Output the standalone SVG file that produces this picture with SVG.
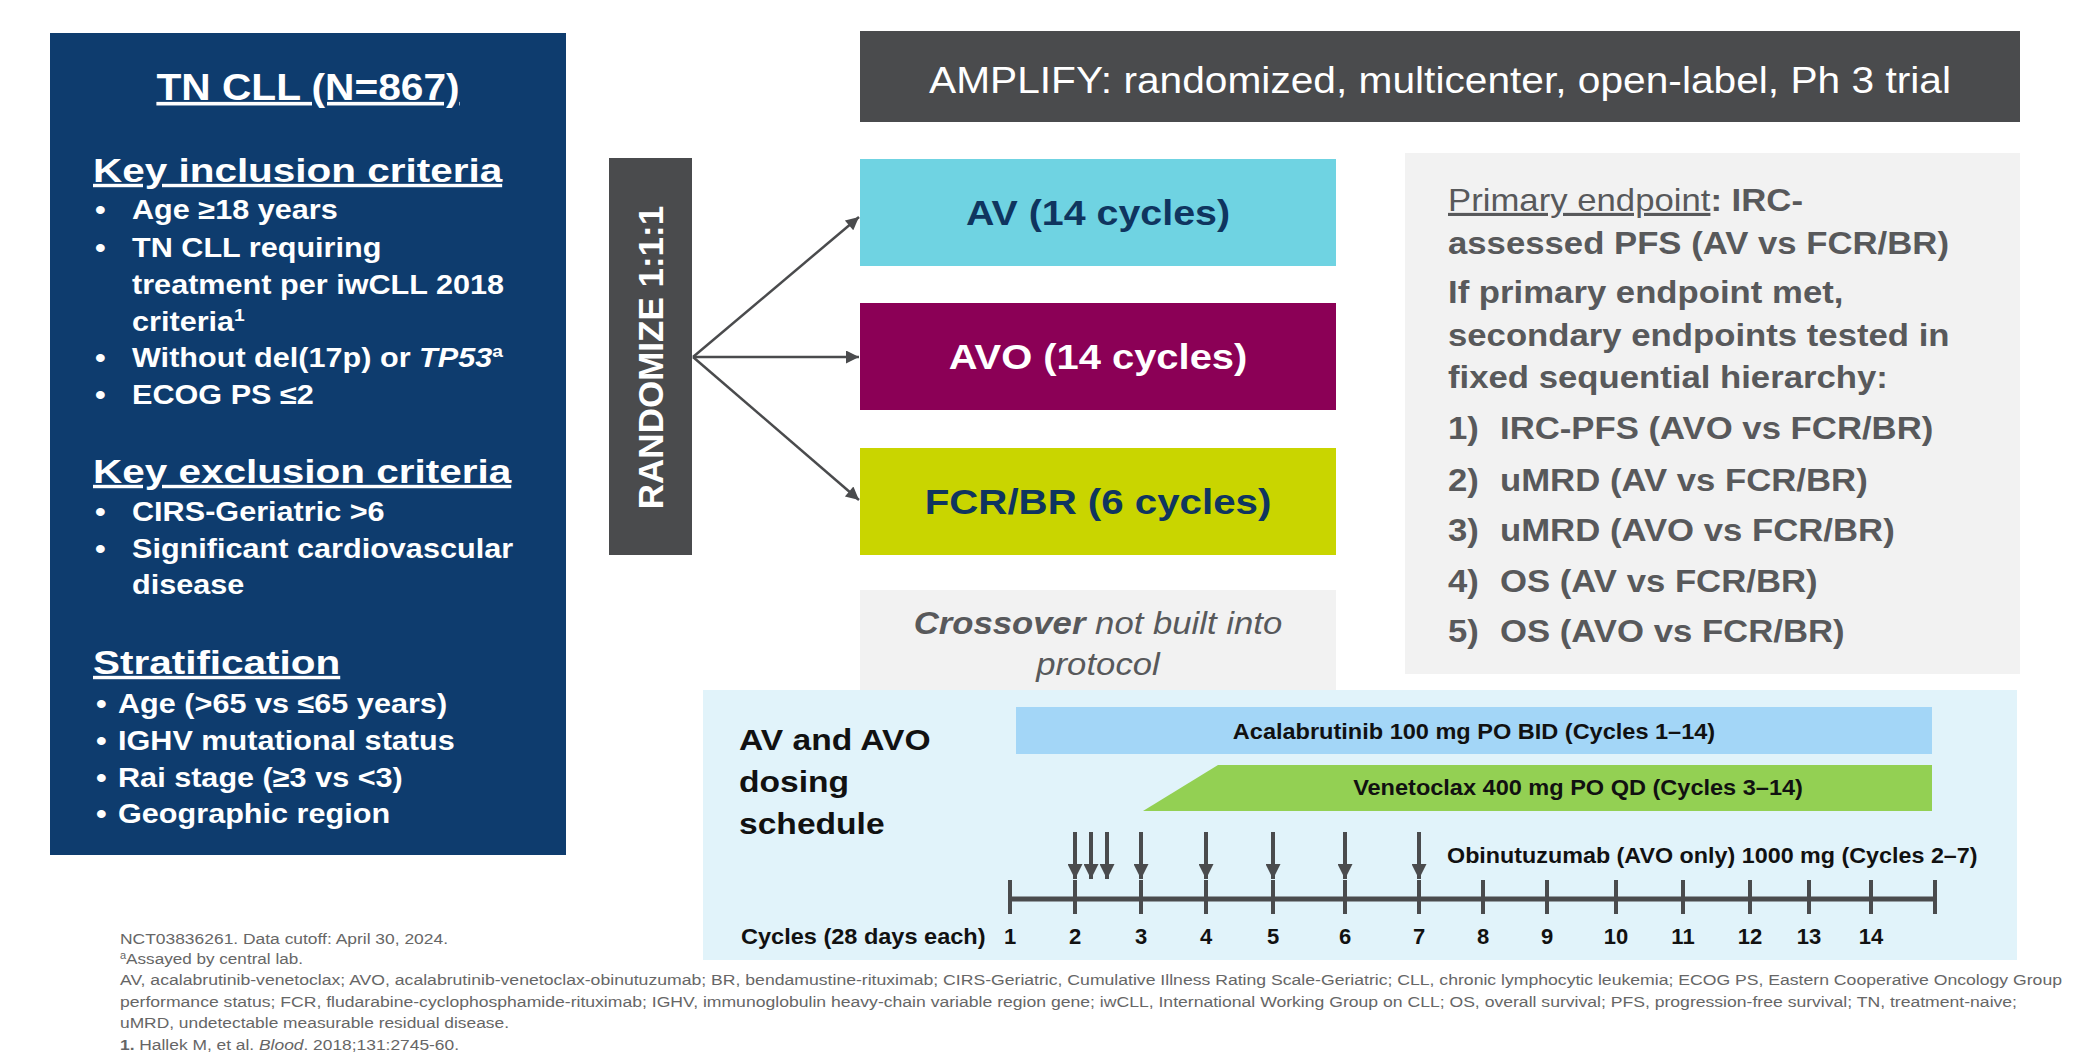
<svg xmlns="http://www.w3.org/2000/svg" width="2085" height="1058" viewBox="0 0 2085 1058">
<defs>
<style>
text{font-family:"Liberation Sans",Arial,sans-serif;}
.b{font-weight:bold;}
.w{fill:#ffffff;}
.nv{fill:#0f355f;}
.g{fill:#58595b;}
.k{fill:#111111;}
.ul{text-decoration:underline;}
.hd{font-size:34px;font-weight:bold;fill:#ffffff;}
.bl{font-size:27px;font-weight:bold;fill:#ffffff;}
.ep{font-size:31px;font-weight:bold;fill:#58595b;}
.arm{font-size:35px;font-weight:bold;}
.sc{font-size:22px;font-weight:bold;fill:#111111;}
.fn{font-size:15.5px;fill:#666666;}
.tick{stroke:#4a4b4d;stroke-width:4;}
.axis{stroke:#4a4b4d;stroke-width:5;}
.conn{stroke:#4a4b4d;stroke-width:2.5;fill:none;}
.dose{stroke:#4a4b4d;stroke-width:4;fill:none;}
</style>
<marker id="ah" viewBox="0 0 10 10" refX="10" refY="5" markerWidth="16" markerHeight="13" markerUnits="userSpaceOnUse" orient="auto"><path d="M0,0 L10,5 L0,10 z" fill="#4a4b4d"/></marker>
<marker id="dn" viewBox="0 0 10 10" refX="10" refY="5" markerWidth="17" markerHeight="15" markerUnits="userSpaceOnUse" orient="auto"><path d="M0,0 L10,5 L0,10 z" fill="#4a4b4d"/></marker>
</defs>
<rect width="2085" height="1058" fill="#ffffff"/>

<g id="population">
<rect x="50" y="33" width="516" height="822" fill="#0e3c6e"/>
<text class="b w ul" font-size="36" text-anchor="middle" transform="translate(308 100) scale(1.13 1)">TN CLL (N=867)</text>
<text class="hd ul" transform="translate(93 182) scale(1.19 1)">Key inclusion criteria</text>
<g class="bl">
<text transform="translate(95 219) scale(1.13 1)">•</text>
<text transform="translate(132 219) scale(1.134 1)">Age ≥18 years</text>
<text transform="translate(95 257) scale(1.13 1)">•</text>
<text transform="translate(132 257) scale(1.134 1)">TN CLL requiring</text>
<text transform="translate(132 294) scale(1.134 1)">treatment per iwCLL 2018</text>
<text transform="translate(132 331) scale(1.134 1)">criteria<tspan font-size="17" dy="-10">1</tspan></text>
<text transform="translate(95 367) scale(1.13 1)">•</text>
<text transform="translate(132 367) scale(1.134 1)">Without del(17p) or <tspan font-style="italic">TP53</tspan><tspan font-size="17" dy="-10">a</tspan></text>
<text transform="translate(95 404) scale(1.13 1)">•</text>
<text transform="translate(132 404) scale(1.134 1)">ECOG PS ≤2</text>
</g>
<text class="hd ul" transform="translate(93 483) scale(1.19 1)">Key exclusion criteria</text>
<g class="bl">
<text transform="translate(95 521) scale(1.13 1)">•</text>
<text transform="translate(132 521) scale(1.134 1)">CIRS-Geriatric &gt;6</text>
<text transform="translate(95 558) scale(1.13 1)">•</text>
<text transform="translate(132 558) scale(1.134 1)">Significant cardiovascular</text>
<text transform="translate(132 594) scale(1.134 1)">disease</text>
</g>
<text class="hd ul" transform="translate(93 674) scale(1.19 1)">Stratification</text>
<g class="bl">
<text transform="translate(96 713) scale(1.13 1)">•</text>
<text transform="translate(118 713) scale(1.134 1)">Age (&gt;65 vs ≤65 years)</text>
<text transform="translate(96 750) scale(1.13 1)">•</text>
<text transform="translate(118 750) scale(1.134 1)">IGHV mutational status</text>
<text transform="translate(96 787) scale(1.13 1)">•</text>
<text transform="translate(118 787) scale(1.134 1)">Rai stage (≥3 vs &lt;3)</text>
<text transform="translate(96 823) scale(1.13 1)">•</text>
<text transform="translate(118 823) scale(1.134 1)">Geographic region</text>
</g>
</g>

<g id="trial-title">
<rect x="860" y="31" width="1160" height="91" fill="#4a4b4d"/>
<text class="w" font-size="36" text-anchor="middle" transform="translate(1440 93) scale(1.13 1)">AMPLIFY: randomized, multicenter, open-label, Ph 3 trial</text>
</g>

<g id="randomize">
<rect x="609" y="158" width="83" height="397" fill="#4a4b4d"/>
<text class="b w" font-size="35" text-anchor="middle" transform="translate(663 357.5) rotate(-90)">RANDOMIZE 1:1:1</text>
</g>

<g id="arm-av">
<rect x="860" y="159" width="476" height="107" fill="#6fd3e2"/>
<text class="arm nv" text-anchor="middle" transform="translate(1098 225) scale(1.125 1)">AV (14 cycles)</text>
</g>
<g id="arm-avo">
<rect x="860" y="303" width="476" height="107" fill="#8b0056"/>
<text class="arm w" text-anchor="middle" transform="translate(1098 369) scale(1.14 1)">AVO (14 cycles)</text>
</g>
<g id="arm-fcr">
<rect x="860" y="448" width="476" height="107" fill="#c9d500"/>
<text class="arm nv" text-anchor="middle" transform="translate(1098 514) scale(1.15 1)">FCR/BR (6 cycles)</text>
</g>

<g id="connectors">
<line class="conn" x1="693" y1="357" x2="859" y2="217" marker-end="url(#ah)"/>
<line class="conn" x1="693" y1="357" x2="859" y2="357" marker-end="url(#ah)"/>
<line class="conn" x1="693" y1="357" x2="859" y2="500" marker-end="url(#ah)"/>
</g>

<g id="crossover">
<rect x="860" y="590" width="476" height="110" fill="#f2f2f2"/>
<text class="g" font-size="31" font-style="italic" text-anchor="middle" transform="translate(1098 634) scale(1.12 1)"><tspan font-weight="bold">Crossover</tspan> not built into</text>
<text class="g" font-size="31" font-style="italic" text-anchor="middle" transform="translate(1098 675) scale(1.12 1)">protocol</text>
</g>

<g id="endpoints">
<rect x="1405" y="153" width="615" height="521" fill="#f2f2f2"/>
<text class="ep" transform="translate(1448 211) scale(1.12 1)"><tspan font-weight="normal" text-decoration="underline">Primary endpoint</tspan>: IRC-</text>
<text class="ep" transform="translate(1448 254) scale(1.12 1)">assessed PFS (AV vs FCR/BR)</text>
<text class="ep" transform="translate(1448 303) scale(1.12 1)">If primary endpoint met,</text>
<text class="ep" transform="translate(1448 346) scale(1.12 1)">secondary endpoints tested in</text>
<text class="ep" transform="translate(1448 388) scale(1.12 1)">fixed sequential hierarchy:</text>
<text class="ep" transform="translate(1448 439) scale(1.12 1)">1)</text>
<text class="ep" transform="translate(1500 439) scale(1.12 1)">IRC-PFS (AVO vs FCR/BR)</text>
<text class="ep" transform="translate(1448 491) scale(1.12 1)">2)</text>
<text class="ep" transform="translate(1500 491) scale(1.12 1)">uMRD (AV vs FCR/BR)</text>
<text class="ep" transform="translate(1448 541) scale(1.12 1)">3)</text>
<text class="ep" transform="translate(1500 541) scale(1.12 1)">uMRD (AVO vs FCR/BR)</text>
<text class="ep" transform="translate(1448 592) scale(1.12 1)">4)</text>
<text class="ep" transform="translate(1500 592) scale(1.12 1)">OS (AV vs FCR/BR)</text>
<text class="ep" transform="translate(1448 642) scale(1.12 1)">5)</text>
<text class="ep" transform="translate(1500 642) scale(1.12 1)">OS (AVO vs FCR/BR)</text>
</g>

<g id="dosing-schedule">
<rect x="703" y="690" width="1314" height="270" fill="#e1f3fa"/>
<text class="b k" font-size="30" transform="translate(739 750) scale(1.12 1)">AV and AVO</text>
<text class="b k" font-size="30" transform="translate(739 792) scale(1.12 1)">dosing</text>
<text class="b k" font-size="30" transform="translate(739 834) scale(1.12 1)">schedule</text>
<g id="acalabrutinib">
<rect x="1016" y="707" width="916" height="47" fill="#a3d6f7"/>
<text class="sc" text-anchor="middle" transform="translate(1474 739) scale(1.07 1)">Acalabrutinib 100 mg PO BID (Cycles 1–14)</text>
</g>
<g id="venetoclax">
<polygon points="1143,811 1218,765 1932,765 1932,811" fill="#93d053"/>
<text class="sc" text-anchor="middle" transform="translate(1578 795) scale(1.07 1)">Venetoclax 400 mg PO QD (Cycles 3–14)</text>
</g>
<g id="obinutuzumab">
<line class="dose" x1="1075" y1="832" x2="1075" y2="879" marker-end="url(#dn)"/>
<line class="dose" x1="1091" y1="832" x2="1091" y2="879" marker-end="url(#dn)"/>
<line class="dose" x1="1107" y1="832" x2="1107" y2="879" marker-end="url(#dn)"/>
<line class="dose" x1="1141" y1="832" x2="1141" y2="879" marker-end="url(#dn)"/>
<line class="dose" x1="1206" y1="832" x2="1206" y2="879" marker-end="url(#dn)"/>
<line class="dose" x1="1273" y1="832" x2="1273" y2="879" marker-end="url(#dn)"/>
<line class="dose" x1="1345" y1="832" x2="1345" y2="879" marker-end="url(#dn)"/>
<line class="dose" x1="1419" y1="832" x2="1419" y2="879" marker-end="url(#dn)"/>
<text class="sc" transform="translate(1447 863) scale(1.06 1)">Obinutuzumab (AVO only) 1000 mg (Cycles 2–7)</text>
</g>
<g id="timeline">
<line class="axis" x1="1010" y1="899" x2="1935" y2="899"/>
<path class="tick" d="M1010,880V914M1075,880V914M1141,880V914M1206,880V914M1273,880V914M1345,880V914M1419,880V914M1483,880V914M1547,880V914M1616,880V914M1683,880V914M1750,880V914M1809,880V914M1871,880V914M1935,880V914"/>
<text class="sc" transform="translate(741 944) scale(1.07 1)">Cycles (28 days each)</text>
<g class="sc" text-anchor="middle">
<text x="1010" y="944">1</text><text x="1075" y="944">2</text><text x="1141" y="944">3</text><text x="1206" y="944">4</text><text x="1273" y="944">5</text><text x="1345" y="944">6</text><text x="1419" y="944">7</text><text x="1483" y="944">8</text><text x="1547" y="944">9</text><text x="1616" y="944">10</text><text x="1683" y="944">11</text><text x="1750" y="944">12</text><text x="1809" y="944">13</text><text x="1871" y="944">14</text>
</g>
</g>
</g>

<g id="footnotes" class="fn">
<text x="120" y="944" textLength="328" lengthAdjust="spacingAndGlyphs">NCT03836261. Data cutoff: April 30, 2024.</text>
<text x="120" y="964" textLength="183" lengthAdjust="spacingAndGlyphs"><tspan font-size="10" dy="-5">a</tspan><tspan dy="5">Assayed by central lab.</tspan></text>
<text x="120" y="985" textLength="1942" lengthAdjust="spacingAndGlyphs">AV, acalabrutinib-venetoclax; AVO, acalabrutinib-venetoclax-obinutuzumab; BR, bendamustine-rituximab; CIRS-Geriatric, Cumulative Illness Rating Scale-Geriatric; CLL, chronic lymphocytic leukemia; ECOG PS, Eastern Cooperative Oncology Group</text>
<text x="120" y="1007" textLength="1897" lengthAdjust="spacingAndGlyphs">performance status; FCR, fludarabine-cyclophosphamide-rituximab; IGHV, immunoglobulin heavy-chain variable region gene; iwCLL, International Working Group on CLL; OS, overall survival; PFS, progression-free survival; TN, treatment-naive;</text>
<text x="120" y="1028" textLength="389" lengthAdjust="spacingAndGlyphs">uMRD, undetectable measurable residual disease.</text>
<text x="120" y="1050" textLength="339" lengthAdjust="spacingAndGlyphs"><tspan font-weight="bold">1.</tspan> Hallek M, et al. <tspan font-style="italic">Blood</tspan>. 2018;131:2745-60.</text>
</g>
</svg>
